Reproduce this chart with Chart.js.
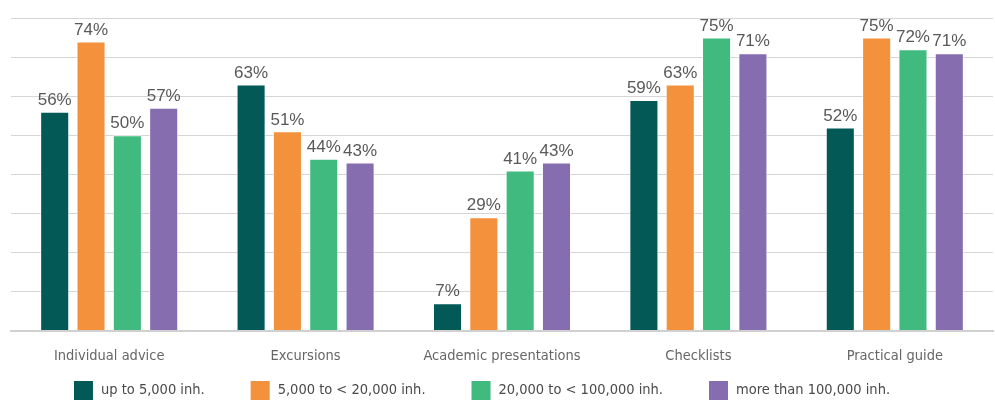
<!DOCTYPE html>
<html>
<head>
<meta charset="utf-8">
<script src="https://cdn.jsdelivr.net/npm/chart.js@4"></script>
<style>
  html, body { margin: 0; padding: 0; background: #fff; }
  #wrap { width: 995px; height: 400px; }
</style>
</head>
<body>
<div id="wrap"><canvas id="grafico"></canvas></div>
<script>
// categorias y series
const categorias = ['Individual advice', 'Excursions', 'Academic presentations', 'Checklists', 'Practical guide'];
const series = ['up to 5,000 inh.', '5,000 to < 20,000 inh.', '20,000 to < 100,000 inh.', 'more than 100,000 inh.'];
const hasta5mil = [56, 63, 7, 59, 52];
const de5a20mil = [74, 51, 29, 63, 75];
const de20a100mil = [50, 44, 41, 75, 72];
const masDe100mil = [57, 43, 43, 71, 71];
const colores = ['#035955', '#F4913D', '#40BA7F', '#856DB0'];

const narrow = "'Liberation Sans Narrow', 'DejaVu Sans Condensed', sans-serif";

// etiquetas con porcentaje encima de cada barra
const etiquetas = {
  id: 'etiquetas',
  afterDatasetsDraw(chart) {
    const c = chart.ctx;
    c.save();
    c.font = "17px 'Liberation Sans', Arial, sans-serif";
    c.fillStyle = '#595959';
    c.textAlign = 'center';
    c.textBaseline = 'bottom';
    chart.data.datasets.forEach((ds, i) => {
      chart.getDatasetMeta(i).data.forEach((bar, j) => {
        c.fillText(ds.data[j] + '%', bar.x, bar.y - 3);
      });
    });
    c.restore();
  }
};

// leyenda propia abajo (la de Chart.js deja demasiado espacio vertical)
const leyenda = {
  id: 'leyenda',
  afterDraw(chart) {
    const c = chart.ctx;
    const caja = 19, hueco = 8, sep = 46;
    c.save();
    c.font = '14.5px ' + narrow;
    c.textBaseline = 'middle';
    const anchos = chart.data.datasets.map(ds => caja + hueco + c.measureText(ds.label).width);
    const total = anchos.reduce((a, b) => a + b, 0) + sep * (anchos.length - 1);
    let x = (chart.chartArea.left + chart.chartArea.right) / 2 - 20 - total / 2;
    const y = chart.height - 19;
    chart.data.datasets.forEach((ds, i) => {
      c.fillStyle = ds.backgroundColor;
      c.fillRect(x, y, caja, 19);
      c.fillStyle = '#4a4a4a';
      c.fillText(ds.label, x + caja + hueco, y + 9);
      x += anchos[i] + sep;
    });
    c.restore();
  }
};

const grafico = new Chart(document.getElementById('grafico'), {
  type: 'bar',
  data: {
    labels: categorias,
    datasets: [hasta5mil, de5a20mil, de20a100mil, masDe100mil].map((d, i) => ({
      label: series[i],
      data: d,
      backgroundColor: colores[i],
      borderColor: 'rgba(255,255,255,0.6)',
      borderWidth: 1,
      categoryPercentage: 0.74,
      barPercentage: 0.8
    }))
  },
  options: {
    responsive: true,
    maintainAspectRatio: false,
    animation: false,
    layout: { padding: { top: 18, left: 11, right: 2, bottom: 26 } },
    plugins: {
      tooltip: { enabled: false },
      legend: { display: false }
    },
    scales: {
      x: {
        grid: { display: false },
        border: { color: '#d0d0d0', width: 2 },
        ticks: { color: '#666', padding: 9, font: { family: narrow, size: 14.5 } }
      },
      y: {
        min: 0,
        max: 80,
        ticks: { display: false, stepSize: 10 },
        grid: { color: '#d6d6d6', drawTicks: false },
        border: { display: false }
      }
    }
  },
  plugins: [etiquetas, leyenda]
});
</script>
</body>
</html>
